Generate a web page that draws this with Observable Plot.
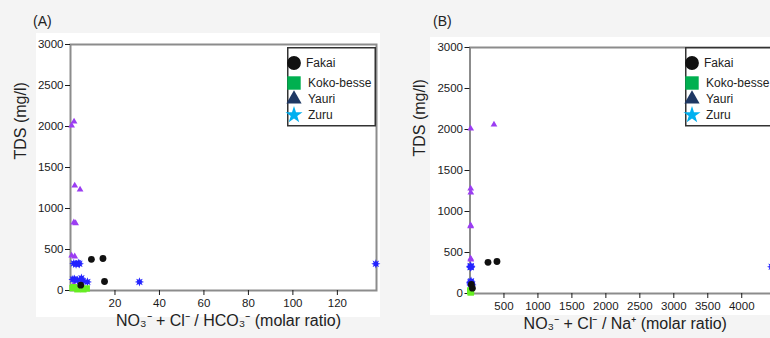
<!DOCTYPE html>
<html><head><meta charset="utf-8">
<script src="https://cdn.jsdelivr.net/npm/d3@7"></script>
<script src="https://cdn.jsdelivr.net/npm/@observablehq/plot@0.6"></script>
<style>
html,body{margin:0;padding:0;background:#f4f4f4;}
#wrap{position:relative;width:770px;height:338px;overflow:hidden;font-family:"Liberation Sans",Arial,sans-serif;}
.bg{position:absolute;background:#fff;}
.panel{position:absolute;top:0;}
.tag{position:absolute;font-size:14px;color:#222;line-height:16px;}
</style></head><body><div id="wrap"></div>
<script>
// ---------- data ----------
const sites = ["Fakai", "Koko-besse", "Yauri", "Zuru"];

const fakaiTDS   = [380, 390, 110, 65];
const fakaiHCO3  = [9.4, 14.6, 15.3, 4.6];
const fakaiNa    = [265, 397, 20, 35];

const kokoTDS    = [30, 15, 25, 15, 40];
const kokoHCO3   = [0.9, 3.1, 7.3, 5.8, 1.5];
const kokoNa     = [5, 10, 15, 12, 8];

const yauriTDS   = [2010, 2060, 1280, 1230, 830, 820, 425, 415, 75];
const yauriHCO3  = [0.5, 1.6, 1.9, 4.3, 1.5, 2.3, 0.5, 1.9, 1.6];
const yauriNa    = [10, 353, 10, 12, 10, 10, 10, 12, 15];

const zuruTDS    = [325, 105, 330, 320, 335, 325, 135, 125, 150, 105, 140, 115];
const zuruHCO3   = [137.3, 31.0, 1.5, 2.5, 3.5, 4.0, 1.1, 3.1, 4.9, 7.6, 1.8, 5.5];
const zuruNa     = [4440, 12, 8, 10, 12, 14, 8, 12, 16, 30, 10, 20];

const yTicks  = [0, 500, 1000, 1500, 2000, 2500, 3000];
const xTicksA = [20, 40, 60, 80, 100, 120];
const xTicksB = [500, 1000, 1500, 2000, 2500, 3000, 3500, 4000];

const labelA = "NO\u2083\u207B + Cl\u207B / HCO\u2083\u207B (molar ratio)";
const labelB = "NO\u2083\u207B + Cl\u207B / Na\u207A (molar ratio)";
const labelY = "TDS (mg/l)";

// ---------- build table ----------
const siteData = {
  "Fakai":      {tds: fakaiTDS, hco3: fakaiHCO3, na: fakaiNa},
  "Koko-besse": {tds: kokoTDS,  hco3: kokoHCO3,  na: kokoNa},
  "Yauri":      {tds: yauriTDS, hco3: yauriHCO3, na: yauriNa},
  "Zuru":       {tds: zuruTDS,  hco3: zuruHCO3,  na: zuruNa}
};
const rows = [];
for (const s of sites) {
  const d = siteData[s];
  d.tds.forEach((t, i) => rows.push({site: s, tds: t, rHCO3: d.hco3[i], rNa: d.na[i]}));
}

// 8-point star (asterisk-like filled)
const star8 = {draw(ctx, size) {
  const R = Math.sqrt(size / Math.PI), r = R * 0.5;
  for (let i = 0; i < 16; i++) {
    const a = i * Math.PI / 8, rad = i % 2 ? r : R;
    const x = Math.sin(a) * rad, y = -Math.cos(a) * rad;
    i ? ctx.lineTo(x, y) : ctx.moveTo(x, y);
  }
  ctx.closePath();
}};

const style = {
  "Fakai":      {fill: "#111111", symbol: "circle",   r: 3.4},
  "Koko-besse": {fill: "#66ee22", symbol: "square",   r: 3.6},
  "Yauri":      {fill: "#9b3df2", symbol: "triangle", r: 2.5},
  "Zuru":       {fill: "#2323ff", symbol: star8,      r: 4.6}
};
const drawOrder = ["Yauri", "Zuru", "Koko-besse", "Fakai"];
const fmt = d3.format("d");

function panel(o) {
  const marks = [
    Plot.frame({stroke: "#8c8c8c", strokeWidth: 2}),
    Plot.axisY({ticks: yTicks, tickFormat: fmt, tickSize: 5, tickPadding: 2, label: null, fontSize: 11.5, color: "#1a1a1a"}),
    Plot.axisX({ticks: o.xTicks, tickFormat: fmt, tickSize: 5, tickPadding: 3, label: null, fontSize: 11.5, color: "#1a1a1a"}),
    Plot.text([o.xLabel], {frameAnchor: "bottom", dy: 35, dx: o.xdx, fontSize: 16, fill: "#222"}),
    Plot.text([labelY], {frameAnchor: "left", rotate: -90, dx: o.ydx, dy: o.ydy, fontSize: 16, fill: "#222"})
  ];
  for (const s of drawOrder) {
    const st = style[s];
    marks.push(Plot.dot(rows.filter(d => d.site === s), {x: o.xField, y: "tds", symbol: st.symbol, fill: st.fill, r: st.r, stroke: "none"}));
  }
  return Plot.plot({
    width: o.width, height: 338,
    marginLeft: o.ml, marginRight: o.mr, marginTop: o.mt, marginBottom: o.mb,
    style: {background: "transparent", fontFamily: "'Liberation Sans', Arial, sans-serif", overflow: "visible"},
    x: {domain: o.xDomain},
    y: {domain: [0, 3000]},
    marks
  });
}

const wrap = document.getElementById("wrap");
function addDiv(cls, css, html) {
  const d = document.createElement("div");
  d.className = cls; Object.assign(d.style, css);
  if (html) d.textContent = html;
  wrap.appendChild(d); return d;
}
addDiv("bg", {left: "36px", top: "33px", width: "344px", height: "284px"});
addDiv("bg", {left: "430px", top: "37px", width: "360px", height: "278px"});

const pA = panel({width: 390, ml: 70, mr: 14, mt: 44, mb: 48, xDomain: [0, 137.6], xTicks: xTicksA,
  xField: "rHCO3", xLabel: labelA, xdx: 5, ydx: -50, ydy: -8});
pA.classList.add("panel"); pA.style.left = "0px";
wrap.appendChild(pA);

const pB = panel({width: 402, ml: 79.5, mr: 10, mt: 47, mb: 45, xDomain: [0, 4600], xTicks: xTicksB,
  xField: "rNa", xLabel: labelB, xdx: -1, ydx: -50, ydy: -14});
pB.classList.add("panel"); pB.style.left = "390px";
wrap.appendChild(pB);

addDiv("tag", {left: "33px", top: "13px"}, "(A)");
addDiv("tag", {left: "433px", top: "13px"}, "(B)");

// ---------- legends ----------
const legendFill = ["#111111", "#00b050", "#1f3864", "#00b0f0"];
const legendSym  = [d3.symbolCircle, d3.symbolSquare, d3.symbolTriangle, d3.symbolStar];
const legendSize = [150, 180, 100, 90];
const legendRowY = [16, 36, 52, 68];
const legendTextX = [19, 21, 21, 21];

function legend(left, top, width) {
  const svg = d3.create("svg").attr("width", width).attr("height", 82)
    .style("position", "absolute").style("left", left + "px").style("top", top + "px")
    .style("overflow", "visible");
  svg.append("rect").attr("x", 0.75).attr("y", 0.75).attr("width", width - 1.5).attr("height", 78)
    .attr("fill", "#fff").attr("stroke", "#333").attr("stroke-width", 1.5);
  sites.forEach((s, i) => {
    svg.append("path").attr("transform", `translate(7,${legendRowY[i]})`)
      .attr("d", d3.symbol(legendSym[i], legendSize[i])()).attr("fill", legendFill[i]);
    svg.append("text").attr("x", legendTextX[i]).attr("y", legendRowY[i] + 4)
      .attr("font-size", 12).attr("fill", "#222")
      .attr("font-family", "'Liberation Sans', Arial, sans-serif").text(s);
  });
  wrap.appendChild(svg.node());
}
legend(287, 47, 89);
legend(685, 47, 100);
</script></body></html>
